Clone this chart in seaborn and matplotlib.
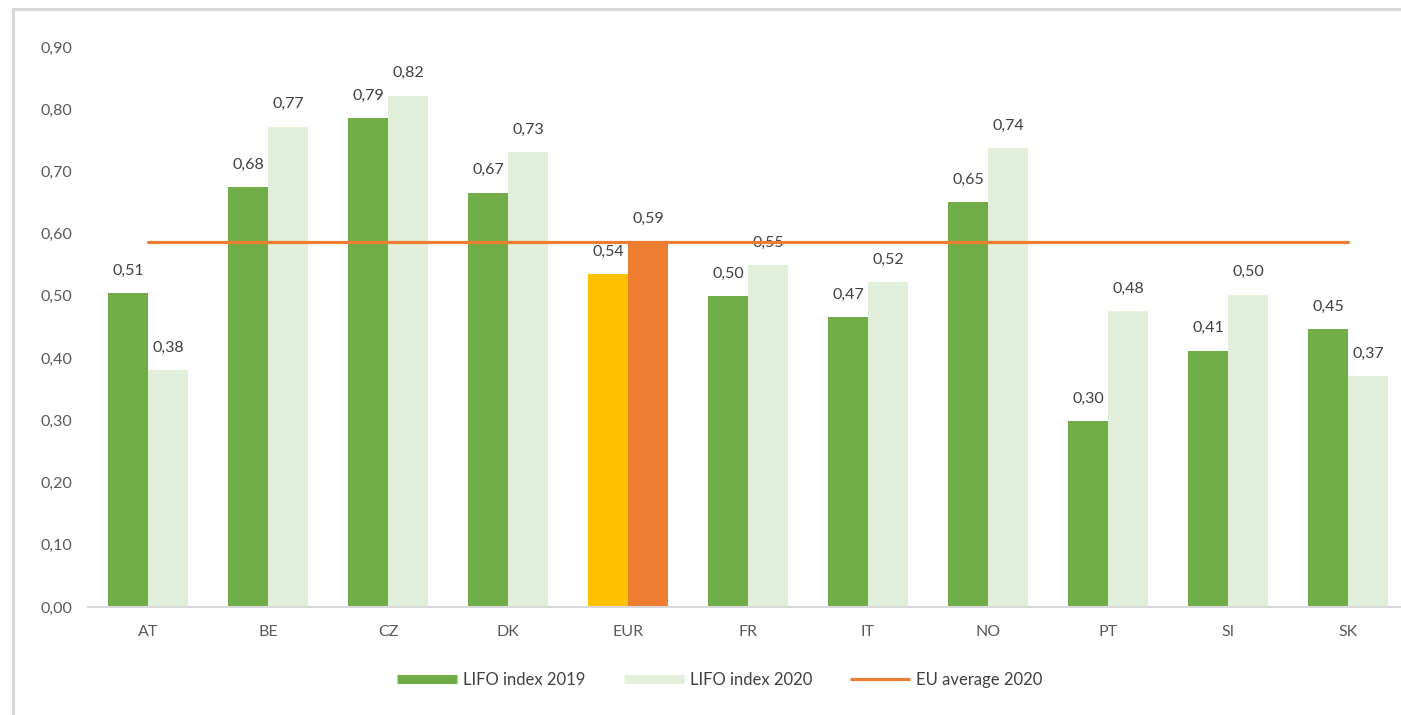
import matplotlib
matplotlib.use("Agg")
import matplotlib.pyplot as plt
import seaborn as sns
import numpy as np
import pandas as pd
from matplotlib.lines import Line2D
from matplotlib.patches import Rectangle

categories = ["AT", "BE", "CZ", "DK", "EUR", "FR", "IT", "NO", "PT", "SI", "SK"]
lifo_2019 = [0.505, 0.675, 0.786, 0.666, 0.535, 0.500, 0.466, 0.651, 0.299, 0.412, 0.446]
lifo_2020 = [0.381, 0.772, 0.822, 0.731, 0.588, 0.550, 0.522, 0.737, 0.476, 0.502, 0.371]
eu_average_2020 = 0.587
series_names = ["LIFO index 2019", "LIFO index 2020"]
line_name = "EU average 2020"
y_ticks = [0.0, 0.1, 0.2, 0.3, 0.4, 0.5, 0.6, 0.7, 0.8, 0.9]

GREEN = "#70AD47"
LIGHT = "#E2EFDA"
YELLOW = "#FFC000"
ORANGE = "#ED7D31"
TXT = "#404040"
TICK = "#595959"
GRID = "#D9D9D9"

sns.set_style("white")
plt.rcParams["font.family"] = ["Lato", "DejaVu Sans"]

df = pd.DataFrame({
    "country": categories * 2,
    "value": lifo_2019 + lifo_2020,
    "series": [series_names[0]] * len(categories) + [series_names[1]] * len(categories),
})

W, H = 1401, 715
fig = plt.figure(figsize=(W / 100, H / 100), dpi=100)
ax = fig.add_axes([88 / W, (H - 607) / H, 1320 / W, 560 / H])

sns.barplot(data=df, x="country", y="value", hue="series", order=categories,
            hue_order=series_names, palette=[GREEN, LIGHT], width=0.667,
            saturation=1, legend=False, ax=ax)

eur_idx = categories.index("EUR")
for i, cont in enumerate(ax.containers):
    bar = cont.patches[eur_idx]
    bar.set_facecolor(YELLOW if i == 0 else ORANGE)
    bar.set_edgecolor("none")
    for p in cont.patches:
        p.set_linewidth(0)
    ax.bar_label(cont, labels=[f"{v:.2f}".replace(".", ",") for v in cont.datavalues],
                 padding=11, fontsize=11.5, color=TXT)

xpos = np.arange(len(categories))
ax.plot(xpos, [eu_average_2020] * len(categories), color=ORANGE, lw=2.3, zorder=5)

ax.set_xlim(-0.5, len(categories) - 0.5)
ax.set_ylim(0, 0.9)
ax.set_yticks(y_ticks)
ax.set_yticklabels([f"{t:.2f}".replace(".", ",") for t in y_ticks])
ax.set_xlabel("")
ax.set_ylabel("")
ax.tick_params(axis="y", length=0, pad=11.5, labelsize=11.5, labelcolor=TICK)
ax.tick_params(axis="x", length=0, pad=13, labelsize=11.5, labelcolor=TICK)
for s in ["top", "right", "left"]:
    ax.spines[s].set_visible(False)
ax.spines["bottom"].set_color(GRID)
ax.spines["bottom"].set_linewidth(1.5)

handles = [
    Line2D([0], [0], color=GREEN, lw=6.5, solid_capstyle="butt"),
    Line2D([0], [0], color=LIGHT, lw=6.5, solid_capstyle="butt"),
    Line2D([0], [0], color=ORANGE, lw=2.3, solid_capstyle="butt"),
]
fig.legend(handles, series_names + [line_name], loc="center",
           bbox_to_anchor=(720 / W, 1 - 680 / H), ncol=3, frameon=False,
           fontsize=12, labelcolor=TXT, handlelength=3.6, handletextpad=0.35,
           columnspacing=2.3)

fig.patches.append(Rectangle((13 / W, -0.2), 1.5, (H - 9) / H + 0.2,
                             transform=fig.transFigure, fill=False,
                             edgecolor=GRID, lw=2.2))

fig.savefig("out.png", dpi=100)
